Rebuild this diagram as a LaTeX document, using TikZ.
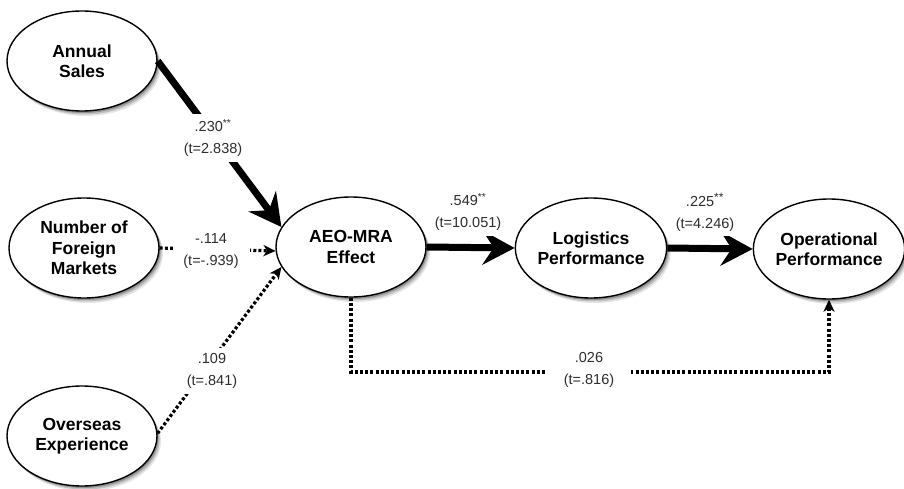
\documentclass[tikz,border=0pt]{standalone}
\usepackage{fontspec}
\setmainfont{Liberation Sans}
\usetikzlibrary{shapes.geometric,arrows.meta,shadows}

\begin{document}
\begin{tikzpicture}[x=1pt,y=-1pt,
  construct/.style={ellipse, draw=black, line width=1.4pt, fill=white,
    minimum width=150pt, minimum height=100pt, inner sep=0pt, align=center,
    font=\bfseries\fontsize{17.5}{20.5}\selectfont,
    drop shadow={shadow xshift=4pt, shadow yshift=-5pt, fill=black, opacity=.10},
    drop shadow={shadow xshift=2.8pt, shadow yshift=-3.5pt, fill=black, opacity=.16},
    drop shadow={shadow xshift=1.6pt, shadow yshift=-2pt, fill=black, opacity=.24}},
  coef/.style={align=center, fill=white, inner xsep=6pt, inner ysep=5pt,
    text=black!82, font=\fontsize{14.5}{22}\selectfont},
  strong/.style={line width=7pt, -{Stealth[length=32pt,width=34pt,inset=11pt]}},
  weak/.style={line width=3.2pt, dash pattern=on 3pt off 2.2pt,
    -{Stealth[length=12pt,width=11pt,inset=3.5pt]}},
]
\useasboundingbox (0,0) rectangle (904,489);

% constructs
\node[construct] (sales)    at (82,61)   {Annual\\Sales};
\node[construct] (markets)  at (84,248)  {Number of\\Foreign\\Markets};
\node[construct] (overseas) at (82,436)  {Overseas\\Experience};
\node[construct] (aeo)      at (351,247) {AEO-MRA\\Effect};
\node[construct] (logis)    at (591,248) {Logistics\\Performance};
\node[construct] (oper)     at (829,249) {Operational\\Performance};

% paths
\coordinate (bend) at (589,372);
\draw[strong] (sales.east) -- (aeo.164);
\draw[weak] (markets.east) -- (aeo.183);
\draw[weak] (overseas.2) -- (aeo.196);
\draw[strong] (aeo.east) -- (logis.west);
\draw[strong] (logis.east) -- (oper.west);
\draw[weak] (aeo.south) |- (bend) -| (oper.south);

% path coefficients
\node[coef] at (213,138) {.230\textsuperscript{**}\\(t=2.838)};
\node[coef, minimum width=77pt] at (211,251) {-.114\\(t=-.939)};
\node[coef] at (212,371) {.109\\(t=.841)};
\node[coef] at (468,212) {.549\textsuperscript{**}\\(t=10.051)};
\node[coef] at (705,212) {.225\textsuperscript{\fontsize{12}{12}\selectfont**}\\(t=4.246)};
\node[coef, minimum width=84pt] at (589,370) {.026\\(t=.816)};
\end{tikzpicture}
\end{document}
